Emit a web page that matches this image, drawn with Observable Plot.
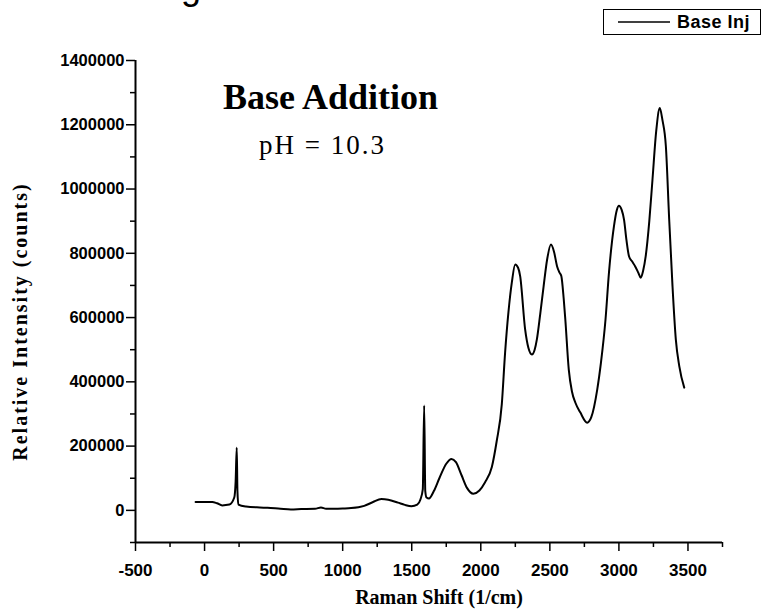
<!DOCTYPE html>
<html>
<head>
<meta charset="utf-8">
<script src="https://cdn.jsdelivr.net/npm/d3@7"></script>
<script src="https://cdn.jsdelivr.net/npm/@observablehq/plot@0.6"></script>
<style>
  body { margin: 0; background: #fff; }
  #wrap { position: relative; width: 763px; height: 616px; overflow: hidden; background: #fff; }
  #frag { position: absolute; left: 181px; top: -34px; font: 36px "Liberation Sans", Arial, sans-serif; color: #000; }
  #legend { position: absolute; left: 603px; top: 9px; width: 158px; height: 26px; border: 1.5px solid #000; box-sizing: border-box; font: bold 18px "Liberation Sans", Arial, sans-serif; letter-spacing: 0.5px; display: flex; align-items: center; white-space: nowrap; }
  #legend svg { margin-left: 14px; margin-right: 7px; }
</style>
</head>
<body>
<div id="wrap">
  <div id="frag">g</div>
  <div id="legend"><svg width="52" height="4"><line x1="0" y1="2" x2="52" y2="2" stroke="#000" stroke-width="1.5"></line></svg><span id="legendText"></span></div>
</div>
<script>
// ---- data ----
const seriesName = "Base Inj";
const ramanShift = [-65, 0, 56, 90, 128, 180, 215, 225, 233, 238, 245, 300, 400, 456, 550, 625, 700, 800, 843, 880,
  1000, 1061, 1156, 1220, 1280, 1330, 1400, 1450, 1498, 1540, 1563, 1580, 1590, 1598, 1607, 1625, 1660, 1700, 1750, 1788,
  1820, 1860, 1900, 1946, 1990, 2030, 2080, 2115, 2152, 2176, 2200, 2225, 2249, 2270, 2285, 2321, 2345, 2370, 2390, 2406,
  2430, 2455, 2480, 2508, 2530, 2552, 2570, 2583, 2600, 2612, 2637, 2660, 2685, 2720, 2770, 2800, 2843, 2870, 2903, 2928,
  2964, 2985, 3000, 3020, 3037, 3055, 3073, 3095, 3117, 3140, 3158, 3175, 3194, 3220, 3243, 3270, 3296, 3315, 3340, 3364,
  3388, 3412, 3437, 3473];
const intensity = [26000, 26000, 26000, 22000, 15500, 18000, 40000, 90000, 195000, 60000, 18000, 12000, 9000, 8000, 5000, 3000, 4000, 5000, 9000, 5000,
  6000, 7000, 14000, 26000, 35000, 33000, 24000, 17000, 13000, 18000, 34000, 65000, 326000, 60000, 40000, 37000, 60000, 100000, 145000, 160000,
  150000, 110000, 70000, 52000, 62000, 87000, 135000, 215000, 330000, 491000, 616000, 710000, 765000, 755000, 729000, 563000, 505000, 485000, 500000, 532000,
  610000, 698000, 780000, 827000, 805000, 760000, 740000, 729000, 660000, 594000, 438000, 370000, 335000, 305000, 273000, 290000, 376000, 460000, 594000, 740000,
  884000, 935000, 948000, 935000, 905000, 840000, 791000, 775000, 760000, 740000, 724000, 745000, 791000, 900000, 1029000, 1180000, 1252000, 1215000, 1133000, 905000,
  698000, 532000, 449000, 382000];
const xTicks = [-500, 0, 500, 1000, 1500, 2000, 2500, 3000, 3500];
const xMinorTicks = [-250, 250, 750, 1250, 1750, 2250, 2750, 3250, 3750];
const yTicks = [0, 200000, 400000, 600000, 800000, 1000000, 1200000, 1400000];
const yMinorTicks = [-100000, 100000, 300000, 500000, 700000, 900000, 1100000, 1300000];
const xDomain = [-500, 3750];
const yDomain = [-100000, 1400000];
const xTitle = "Raman Shift (1/cm)";
const yTitle = "Relative Intensity (counts)";
const titleLines = ["Base Addition", "pH = 10.3"];
const titleX = [912, 854];
const titleY = [1285000, 1135000];

const data = ramanShift.map((x, i) => ({x, y: intensity[i]}));
const sans = '"Liberation Sans", Arial, sans-serif';
const serif = '"Liberation Serif", "Times New Roman", serif';

const chart = Plot.plot({
  width: 763,
  height: 616,
  marginLeft: 135,
  marginRight: 41,
  marginTop: 60,
  marginBottom: 74,
  style: {background: "transparent", color: "#000"},
  x: {domain: xDomain},
  y: {domain: yDomain},
  marks: [
    Plot.axisX({ticks: xMinorTicks, tickSize: 5, fill: "none", strokeWidth: 1.5, label: null}),
    Plot.axisX({ticks: xTicks, tickSize: 9, tickPadding: 12, strokeWidth: 1.5, label: null,
      tickFormat: d => String(d), fontSize: 17, fontWeight: "bold", fontFamily: sans}),
    Plot.axisY({ticks: yMinorTicks, tickSize: 5, fill: "none", strokeWidth: 1.5, label: null}),
    Plot.axisY({ticks: yTicks, tickSize: 9, tickPadding: 2, strokeWidth: 1.5, label: null,
      tickFormat: d => String(d), fontSize: 16.5, fontWeight: "bold", fontFamily: sans}),
    Plot.ruleX([xDomain[0]], {strokeWidth: 2}),
    Plot.ruleY([yDomain[0]], {strokeWidth: 2}),
    Plot.line(data, {x: "x", y: "y", stroke: "#000", strokeWidth: 2, curve: "monotone-x"}),
    Plot.text([titleLines[0]], {x: titleX[0], y: titleY[0], text: d => d, fontSize: 36, fontWeight: "bold", fontFamily: serif}),
    Plot.text([titleLines[1]], {x: titleX[1], y: titleY[1], text: d => d, fontSize: 27, fontFamily: serif}),
    Plot.text([xTitle], {frameAnchor: "bottom", dy: 61, dx: 10, text: d => d, fontSize: 20, fontWeight: "bold", fontFamily: serif}),
    Plot.text([yTitle], {frameAnchor: "left", textAnchor: "middle", rotate: -90, dx: -115, dy: 20, text: d => d, fontSize: 20, fontWeight: "bold", fontFamily: serif})
  ]
});
document.getElementById("wrap").appendChild(chart);
chart.style.position = "absolute";
chart.style.left = "0";
chart.style.top = "0";
d3.select(chart).selectAll("text").filter(function() { return this.textContent === yTitle; }).style("letter-spacing", "2px");
d3.select(chart).selectAll("text").filter(function() { return this.textContent === titleLines[1]; }).style("letter-spacing", "2px");
document.getElementById("legendText").textContent = seriesName;
</script>
</body>
</html>
